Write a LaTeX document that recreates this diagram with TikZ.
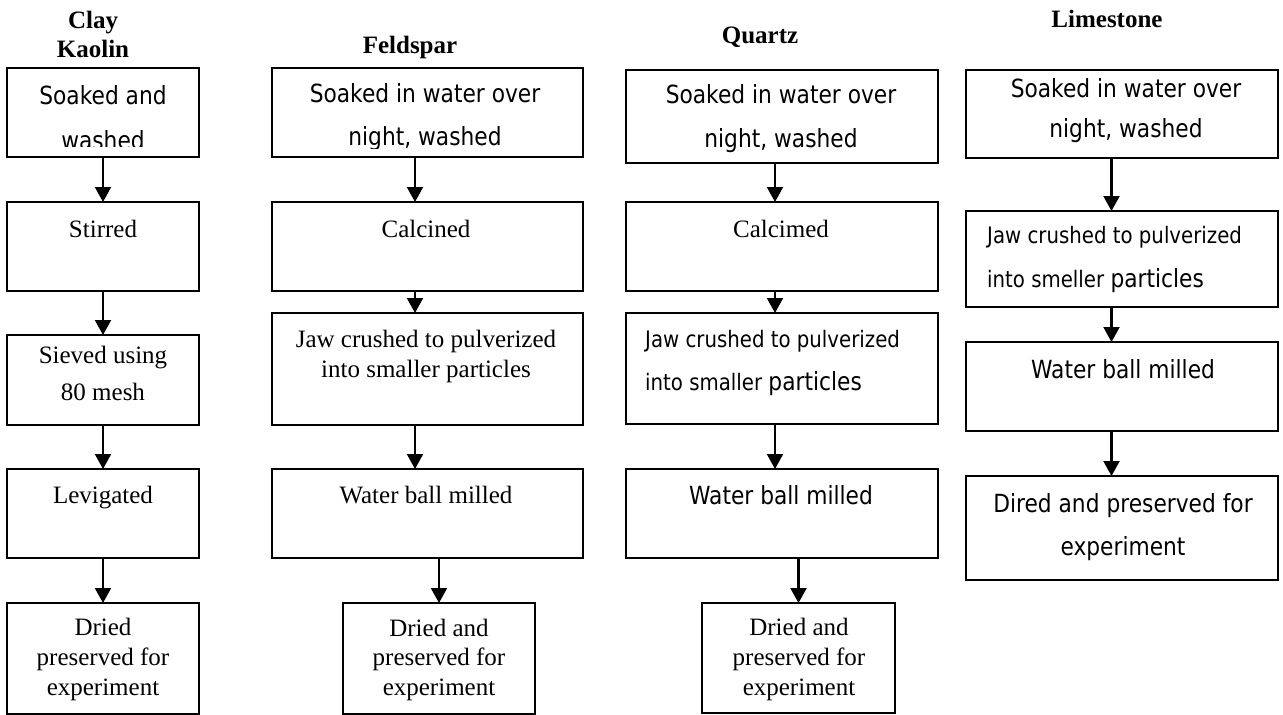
\documentclass[tikz,border=0pt]{standalone}
\usepackage{fontspec}
\setmainfont{Liberation Serif}
\newfontfamily\tah[FakeStretch=0.87]{DejaVu Sans}
\usetikzlibrary{arrows.meta}
\tikzset{
  box/.style={draw, line width=2.1pt, inner sep=0pt, outer sep=0pt},
  arr/.style={line width=2.1pt, -{Triangle[width=16pt,length=15pt]}},
}
\newcommand\mybox[5]{\node[box, minimum width={#4-#2}, minimum height={#5-#3}] (#1) at ({(#2+#4)/2},{(#3+#5)/2}) {};}
\newcommand\ctxt[5]{\node[anchor=base, inner sep=0pt] (#1) at (#2,#3) {#4\begin{tabular}[t]{@{}c@{}}#5\end{tabular}};}
\newcommand\ltxt[5]{\node[anchor=base west, inner sep=0pt] (#1) at (#2,#3) {#4\begin{tabular}[t]{@{}l@{}}#5\end{tabular}};}
\newcommand\fT[1]{\rmfamily\fontsize{25}{#1}\selectfont}
\newcommand\fB[1]{\rmfamily\bfseries\fontsize{25}{#1}\selectfont}
\newcommand\fS[1]{\tah\fontsize{25}{#1}\selectfont}
\newcommand\fSs{\tah\fontsize{22.7}{30}\selectfont}
\begin{document}
\begin{tikzpicture}[x=1pt,y=-1pt]
\useasboundingbox (0,0) rectangle (1283,715);
% ---------- titles
\ctxt{tclay}{93}{28}{\fB{29}}{Clay\\Kaolin}
\ctxt{tfeld}{410}{53}{\fB{29}}{Feldspar}
\ctxt{tquar}{760}{43}{\fB{29}}{Quartz}
\ctxt{tlime}{1107}{27}{\fB{29}}{Limestone}
% ---------- Clay Kaolin
\mybox{c1}{7}{68}{199}{157}
\mybox{c2}{7}{202}{199}{291}
\mybox{c3}{7}{335}{199}{425}
\mybox{c4}{7}{469}{199}{558}
\mybox{c5}{7}{603}{199}{714}
\begin{scope}
\clip (7,68) rectangle (199,146.5);
\ctxt{c1t}{103}{104}{\fS{45}}{Soaked and\\washed}
\end{scope}
\ctxt{c2t}{103}{237}{\fT{30}}{Stirred}
\ctxt{c3t}{103}{363}{\fT{37}}{Sieved using\\80 mesh}
\ctxt{c4t}{103}{503}{\fT{30}}{Levigated}
\ctxt{c5t}{103}{635}{\fT{30}}{Dried\\preserved for\\experiment}
\draw[arr] (c1.south) -- (c2.north);
\draw[arr] (c2.south) -- (c3.north);
\draw[arr] (c3.south) -- (c4.north);
\draw[arr] (c4.south) -- (c5.north);
% ---------- Feldspar
\mybox{f1}{272}{68}{583}{157}
\mybox{f2}{272}{202}{583}{291}
\mybox{f3}{272}{313}{583}{425}
\mybox{f4}{272}{469}{583}{558}
\mybox{f5}{343}{603}{535}{714}
\begin{scope}
\clip (272,68) rectangle (583,148);
\ctxt{f1t}{425}{102}{\fS{43}}{Soaked in water over\\night, washed}
\end{scope}
\ctxt{f2t}{426}{237}{\fT{30}}{Calcined}
\ctxt{f3t}{426}{347}{\fT{30}}{Jaw crushed to pulverized\\into smaller particles}
\ctxt{f4t}{426}{503}{\fT{30}}{Water ball milled}
\ctxt{f5t}{439}{636}{\fT{29.5}}{Dried and\\preserved for\\experiment}
\draw[arr] ([xshift=-12.5pt]f1.south) -- ([xshift=-12.5pt]f2.north);
\draw[arr] ([xshift=-12.5pt]f2.south) -- ([xshift=-12.5pt]f3.north);
\draw[arr] ([xshift=-12.5pt]f3.south) -- ([xshift=-12.5pt]f4.north);
\draw[arr] (f4.south -| f5.north) -- (f5.north);
% ---------- Quartz
\mybox{q1}{626}{70}{938}{163}
\mybox{q2}{626}{202}{938}{291}
\mybox{q3}{626}{313}{938}{424}
\mybox{q4}{626}{469}{938}{558}
\mybox{q5}{702}{603}{895}{713}
\ctxt{q1t}{781}{103}{\fS{44}}{Soaked in water over\\night, washed}
\ctxt{q2t}{781}{237}{\fT{30}}{Calcimed}
\ltxt{q3t}{645}{347}{\fS{43}}{{\fSs Jaw crushed to pulverized}\\{\fSs into smaller }particles}
\ctxt{q4t}{781}{504}{\fS{30}}{Water ball milled}
\ctxt{q5t}{799}{635}{\fT{30}}{Dried and\\preserved for\\experiment}
\draw[arr] ([xshift=-7pt]q1.south) -- ([xshift=-7pt]q2.north);
\draw[arr] ([xshift=-7pt]q2.south) -- ([xshift=-7pt]q3.north);
\draw[arr] ([xshift=-7pt]q3.south) -- ([xshift=-7pt]q4.north);
\draw[arr] (q4.south -| q5.north) -- (q5.north);
% ---------- Limestone
\mybox{l1}{966}{70}{1278}{158}
\mybox{l2}{966}{211}{1278}{307}
\mybox{l3}{966}{342}{1278}{431}
\mybox{l4}{966}{476}{1278}{580}
\ctxt{l1t}{1126}{97}{\fS{40}}{Soaked in water over\\night, washed}
\ltxt{l2t}{987}{243}{\fS{44}}{{\fSs Jaw crushed to pulverized}\\{\fSs into smeller }particles}
\ctxt{l3t}{1123}{378}{\fS{30}}{Water ball milled}
\ctxt{l4t}{1123}{512}{\fS{43}}{Dired and preserved for\\experiment}
\draw[arr] ([xshift=-10.5pt]l1.south) -- ([xshift=-10.5pt]l2.north);
\draw[arr] ([xshift=-10.5pt]l2.south) -- ([xshift=-10.5pt]l3.north);
\draw[arr] ([xshift=-10.5pt]l3.south) -- ([xshift=-10.5pt]l4.north);
\end{tikzpicture}
\end{document}
